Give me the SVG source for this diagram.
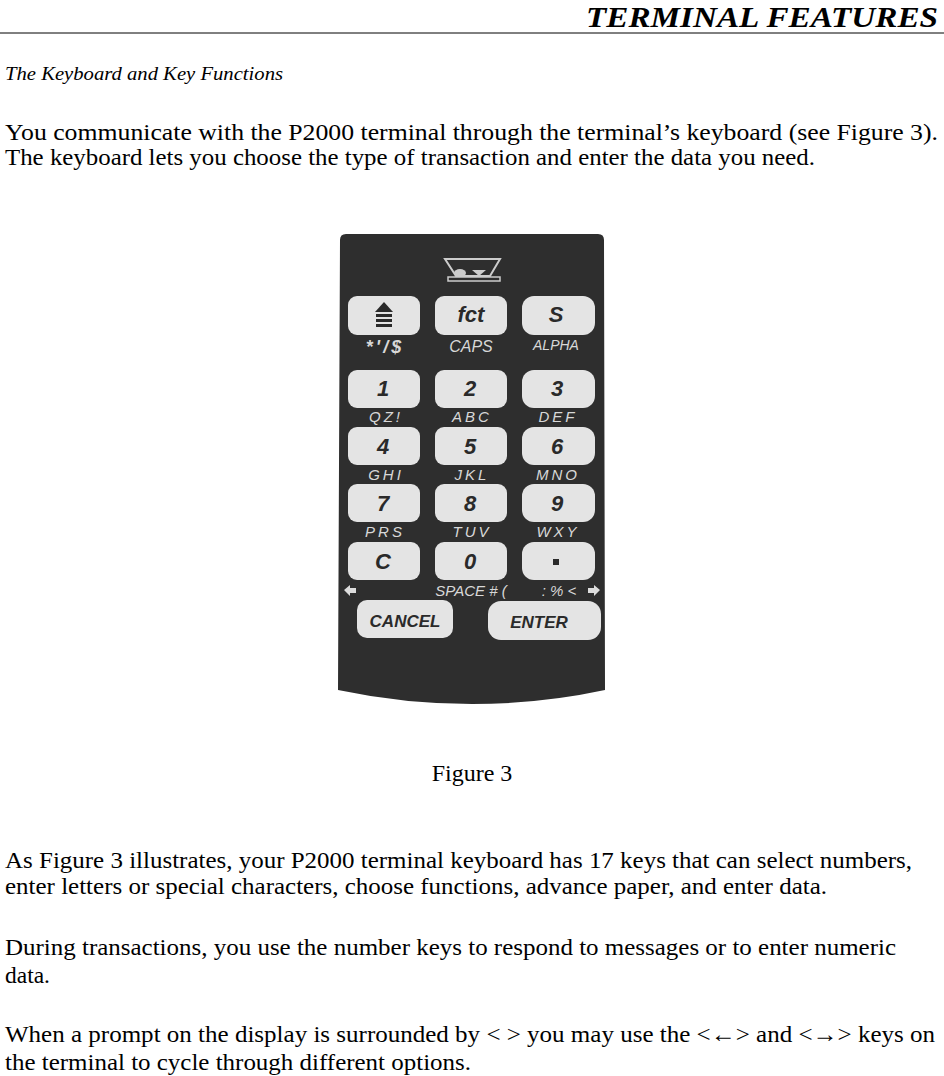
<svg xmlns="http://www.w3.org/2000/svg" width="944" height="1076" viewBox="0 0 944 1076">
<style>
.t{font-family:"Liberation Serif",serif;font-size:24px;fill:#000}
.k{fill:#e4e4e4}
.kl{font-family:"Liberation Sans",sans-serif;font-weight:bold;font-style:italic;font-size:22px;fill:#2a2a2a;text-anchor:middle}
.sl{font-family:"Liberation Sans",sans-serif;font-style:italic;font-size:15px;fill:#d8d8d8;text-anchor:middle;letter-spacing:3px}
</style>
<rect width="944" height="1076" fill="#fff"/>
<text x="938" y="27" text-anchor="end" textLength="352" lengthAdjust="spacingAndGlyphs" style="font-family:'Liberation Serif',serif;font-weight:bold;font-style:italic;font-size:29px">TERMINAL FEATURES</text>
<line x1="0" y1="33" x2="944" y2="33" stroke="#000" stroke-width="1"/>
<text x="5" y="80" textLength="278" lengthAdjust="spacingAndGlyphs" style="font-family:'Liberation Serif',serif;font-style:italic;font-size:19px">The Keyboard and Key Functions</text>
<text class="t" x="5" y="140" textLength="933" lengthAdjust="spacingAndGlyphs">You communicate with the P2000 terminal through the terminal’s keyboard (see Figure 3).</text>
<text class="t" x="5" y="165" textLength="810" lengthAdjust="spacingAndGlyphs">The keyboard lets you choose the type of transaction and enter the data you need.</text>
<g id="keypad">
<path d="M340 240 Q340 234 346 234 L598 234 Q604 234 604 240 L605 690 Q540 704 472 704 Q404 704 338 690 Z" fill="#2e2e2e"/>
<path d="M445 259 L500 259 L490 276 L456 276 Z" fill="none" stroke="#ccc" stroke-width="2"/>
<rect x="448" y="277" width="52" height="4" fill="none" stroke="#ccc" stroke-width="1.5"/>
<ellipse cx="460" cy="273" rx="6" ry="4" fill="#ccc"/>
<path d="M472 270 L486 270 L479 276 Z" fill="#ccc"/>
<g id="keys">
<rect class="k" x="348" y="296" width="72" height="39" rx="9"/>
<rect class="k" x="435" y="296" width="72" height="39" rx="9"/>
<rect class="k" x="522" y="296" width="73" height="39" rx="12"/>
<rect class="k" x="348" y="370" width="72" height="38" rx="9"/>
<rect class="k" x="435" y="370" width="72" height="38" rx="9"/>
<rect class="k" x="522" y="370" width="73" height="38" rx="12"/>
<rect class="k" x="348" y="427" width="72" height="38" rx="9"/>
<rect class="k" x="435" y="427" width="72" height="38" rx="9"/>
<rect class="k" x="522" y="427" width="73" height="38" rx="12"/>
<rect class="k" x="348" y="484" width="72" height="38" rx="9"/>
<rect class="k" x="435" y="484" width="72" height="38" rx="9"/>
<rect class="k" x="522" y="484" width="73" height="38" rx="12"/>
<rect class="k" x="348" y="542" width="72" height="38" rx="9"/>
<rect class="k" x="435" y="542" width="72" height="38" rx="9"/>
<rect class="k" x="522" y="542" width="73" height="38" rx="12"/>
<rect class="k" x="357" y="600" width="96" height="38" rx="10"/>
<rect class="k" x="488" y="601" width="113" height="39" rx="13"/>
</g>
<path d="M384 302 L393 312 L375 312 Z" fill="#2a2a2a"/>
<rect x="376" y="314" width="16" height="3" fill="#2a2a2a"/>
<rect x="376" y="319" width="16" height="3" fill="#2a2a2a"/>
<rect x="376" y="324" width="16" height="3" fill="#2a2a2a"/>
<text class="kl" x="471" y="322">fct</text>
<text class="kl" x="556" y="322">S</text>
<text class="kl" x="383" y="396">1</text>
<text class="kl" x="470" y="396">2</text>
<text class="kl" x="557" y="396">3</text>
<text class="kl" x="383" y="454">4</text>
<text class="kl" x="470" y="454">5</text>
<text class="kl" x="557" y="454">6</text>
<text class="kl" x="383" y="511">7</text>
<text class="kl" x="470" y="511">8</text>
<text class="kl" x="557" y="511">9</text>
<text class="kl" x="383" y="569">C</text>
<text class="kl" x="470" y="569">0</text>
<rect x="553" y="559" width="6" height="6" fill="#2a2a2a"/>
<text class="kl" x="405" y="627" style="font-size:17px">CANCEL</text>
<text class="kl" x="539" y="628" style="font-size:17px">ENTER</text>
<text class="sl" x="385" y="353" style="font-size:18px;font-weight:bold">*'/$</text>
<text class="sl" x="471" y="352" style="letter-spacing:0;font-size:16px">CAPS</text>
<text class="sl" x="556" y="350" style="letter-spacing:0;font-size:14px">ALPHA</text>
<text class="sl" x="386" y="422">QZ!</text>
<text class="sl" x="472" y="422">ABC</text>
<text class="sl" x="558" y="422">DEF</text>
<text class="sl" x="386" y="480">GHI</text>
<text class="sl" x="472" y="480">JKL</text>
<text class="sl" x="558" y="480">MNO</text>
<text class="sl" x="385" y="537">PRS</text>
<text class="sl" x="472" y="537">TUV</text>
<text class="sl" x="558" y="537">WXY</text>
<text class="sl" x="471" y="596" style="letter-spacing:0">SPACE # (</text>
<text class="sl" x="559" y="596" style="letter-spacing:0">: % &lt;</text>
<path d="M344 590 L350 585 L350 588 L356 588 L356 593 L350 593 L350 596 Z" fill="#ddd"/>
<path d="M600 590 L594 585 L594 588 L588 588 L588 593 L594 593 L594 596 Z" fill="#ddd"/>
</g>
<text class="t" x="472" y="781" text-anchor="middle">Figure 3</text>
<text class="t" x="5" y="868" textLength="907" lengthAdjust="spacingAndGlyphs">As Figure 3 illustrates, your P2000 terminal keyboard has 17 keys that can select numbers,</text>
<text class="t" x="5" y="894" textLength="822" lengthAdjust="spacingAndGlyphs">enter letters or special characters, choose functions, advance paper, and enter data.</text>
<text class="t" x="5" y="955" textLength="891" lengthAdjust="spacingAndGlyphs">During transactions, you use the number keys to respond to messages or to enter numeric</text>
<text class="t" x="5" y="983" textLength="45" lengthAdjust="spacingAndGlyphs">data.</text>
<text class="t" x="5" y="1042" textLength="930" lengthAdjust="spacingAndGlyphs">When a prompt on the display is surrounded by &lt; &gt; you may use the &lt;←&gt; and &lt;→&gt; keys on</text>
<text class="t" x="5" y="1070" textLength="466" lengthAdjust="spacingAndGlyphs">the terminal to cycle through different options.</text>
</svg>
